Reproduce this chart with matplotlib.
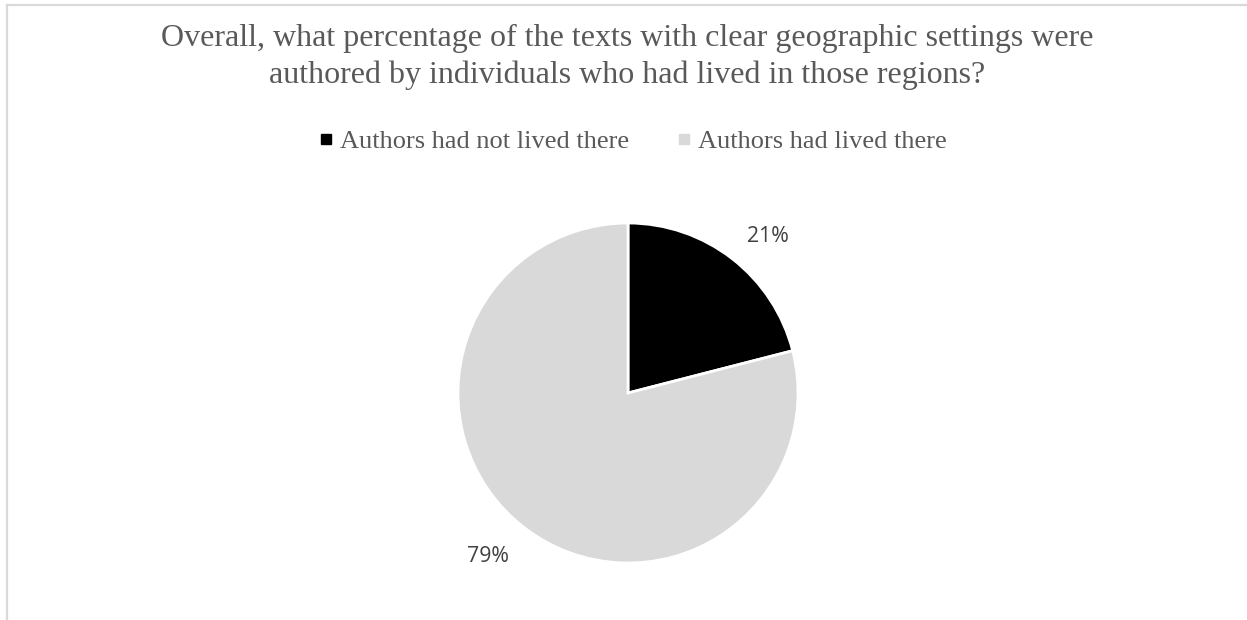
import matplotlib
matplotlib.use("Agg")
import numpy as np
import matplotlib.pyplot as plt
from matplotlib.lines import Line2D

title = ("Overall, what percentage of the texts with clear geographic settings were\n"
         "authored by individuals who had lived in those regions?")
categories = ["Authors had not lived there", "Authors had lived there"]
shares = [21, 79]
colors = ["#000000", "#d9d9d9"]

W, H, DPI = 1247, 620, 100
fig = plt.figure(figsize=(W / DPI, H / DPI), dpi=DPI)
fig.patch.set_facecolor("white")

# chart-area border (top and left edges visible)
fig.add_artist(Line2D([6.5 / W, 6.5 / W], [-0.05, 1 - 4.5 / H], transform=fig.transFigure,
                      color="#d9d9d9", lw=1.6))
fig.add_artist(Line2D([6.5 / W, 1.05], [1 - 4.5 / H, 1 - 4.5 / H], transform=fig.transFigure,
                      color="#d9d9d9", lw=1.6))

fig.text(627 / W, 1 - 57 / H, title, ha="center", va="center", fontsize=23,
         family="Liberation Serif", color="#595959", linespacing=1.29)

# pie
cx, cy, r = 628, 393, 170
ax = fig.add_axes([(cx - r) / W, (H - cy - r) / H, 2 * r / W, 2 * r / H])
wedges, _, autotexts = ax.pie(shares, colors=colors, startangle=90, counterclock=False,
                              autopct="%.0f%%", pctdistance=1.25,
                              wedgeprops=dict(edgecolor="white", linewidth=2),
                              textprops=dict(fontsize=15.3, family="Open Sans", color="#404040"))
# nudge the outside-end labels slightly clockwise and down
rot = np.deg2rad(-3.5)
for t in autotexts:
    x, y = t.get_position()
    t.set_position((x * np.cos(rot) - y * np.sin(rot),
                    x * np.sin(rot) + y * np.cos(rot) - 0.02))
ax.set_xlim(-1, 1)
ax.set_ylim(-1, 1)
ax.set_aspect("equal")
ax.axis("off")

handles = [Line2D([], [], marker="s", linestyle="none", markersize=6.5,
                  markerfacecolor=c, markeredgecolor=c) for c in colors]
leg = fig.legend(handles, categories, loc="center", bbox_to_anchor=(633 / W, 1 - 141 / H),
                 ncol=2, frameon=False, handlelength=0.5, handletextpad=0.27,
                 columnspacing=1.85, prop=dict(family="Liberation Serif", size=19))
for t in leg.get_texts():
    t.set_color("#595959")

fig.savefig("out.png", dpi=DPI, facecolor="white")
